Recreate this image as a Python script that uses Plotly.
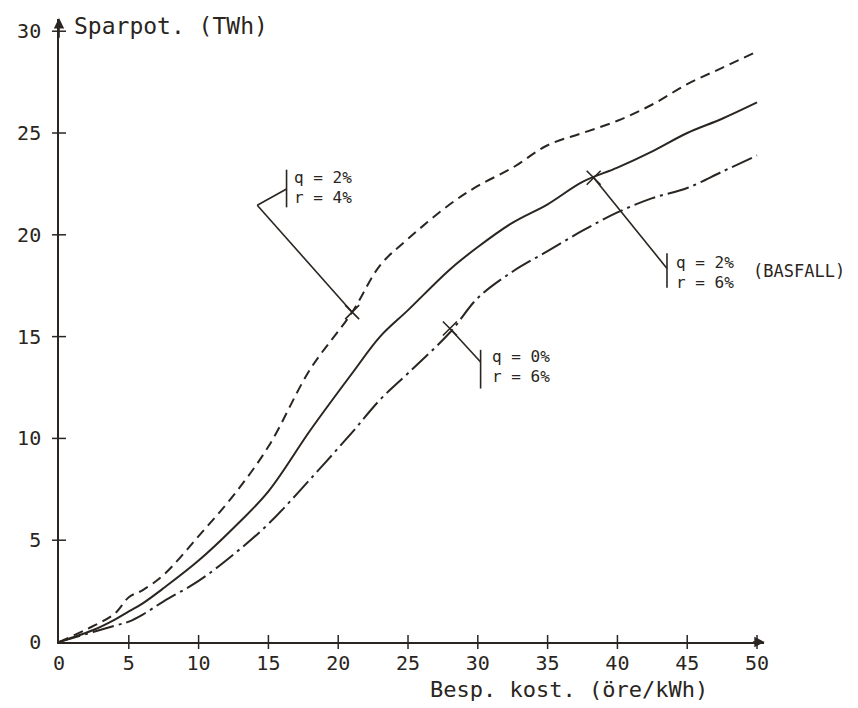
import plotly.graph_objects as go

# Data
kost = [0, 2.5, 4, 5, 6, 7.5, 10, 12.5, 15, 18, 21, 23, 25, 28, 30, 32.5, 35, 37.5, 40, 42.5, 45, 47.5, 50]
q2_r4 = [0, 0.8, 1.4, 2.2, 2.55, 3.3, 5.2, 7.2, 9.6, 13.4, 16.2, 18.5, 19.8, 21.5, 22.4, 23.3, 24.4, 25.0, 25.6, 26.4, 27.4, 28.2, 29.0]
q2_r6 = [0, 0.6, 1.1, 1.5, 1.9, 2.65, 4.0, 5.6, 7.4, 10.4, 13.2, 15.0, 16.3, 18.3, 19.4, 20.6, 21.5, 22.6, 23.3, 24.1, 25.0, 25.7, 26.5]
q0_r6 = [0, 0.5, 0.8, 1.0, 1.35, 2.0, 3.0, 4.3, 5.8, 8.0, 10.3, 11.9, 13.2, 15.2, 16.9, 18.2, 19.2, 20.2, 21.1, 21.8, 22.3, 23.1, 23.9]

markers_x = [21, 38.3, 28]
markers_y = [16.2, 22.8, 15.4]
labels = [["q = 2%", "r = 4%"], ["q = 2%", "r = 6%"], ["q = 0%", "r = 6%"]]

xticks = [0, 5, 10, 15, 20, 25, 30, 35, 40, 45, 50]
yticks = [0, 5, 10, 15, 20, 25, 30]
xtick_text = [str(v) for v in xticks]
ytick_text = [str(v) for v in yticks]

XMAX, YMAX = 50.5, 30.6
INK = "#2a2520"
FONT = "DejaVu Sans Mono"

fig = go.Figure()
fig.add_trace(go.Scatter(x=kost, y=q2_r4, mode="lines",
                         line=dict(color=INK, width=2, dash="10px,6px"), line_shape="spline"))
fig.add_trace(go.Scatter(x=kost, y=q2_r6, mode="lines",
                         line=dict(color=INK, width=2), line_shape="spline"))
fig.add_trace(go.Scatter(x=kost, y=q0_r6, mode="lines",
                         line=dict(color=INK, width=2, dash="22px,5px,3px,5px"), line_shape="spline"))
fig.add_trace(go.Scatter(x=markers_x, y=markers_y, mode="markers",
                         marker=dict(symbol="x-thin", size=14, line=dict(color=INK, width=1.6))))
# tick crosses on the axes
fig.add_trace(go.Scatter(x=xticks[1:], y=[0] * (len(xticks) - 1), mode="markers", cliponaxis=False,
                         marker=dict(symbol="line-ns", size=10, line=dict(color=INK, width=1.5))))
fig.add_trace(go.Scatter(x=[0] * (len(yticks) - 1), y=yticks[1:], mode="markers", cliponaxis=False,
                         marker=dict(symbol="line-ew", size=10, line=dict(color=INK, width=1.5))))

# Leader lines (offsets relative to markers, in data units)
def seg(x0, y0, x1, y1):
    fig.add_shape(type="line", x0=x0, y0=y0, x1=x1, y1=y1, xref="x", yref="y",
                  line=dict(color=INK, width=1.6))

# q=2%, r=4%
mx, my = markers_x[0], markers_y[0]
ex, ey = mx - 6.8, my + 5.25
bx = mx - 4.7
seg(mx, my, ex, ey)
seg(ex, ey, bx, ey + 0.8)
seg(bx, ey + 1.75, bx, ey - 0.1)
# basfall
mx, my = markers_x[1], markers_y[1]
bx2, by2 = mx + 5.25, my - 4.45
seg(mx, my, bx2, by2)
seg(bx2, by2 + 0.75, bx2, by2 - 0.95)
# q=0%, r=6%
mx, my = markers_x[2], markers_y[2]
bx3, by3 = mx + 2.2, my - 1.65
seg(mx, my, bx3, by3)
seg(bx3, by3 + 0.6, bx3, by3 - 1.3)

ann = []
label_pos = [(bx + 0.4, ey + 1.35), (bx2 + 0.5, by2 + 0.3), (bx3 + 0.65, by3 + 0.25)]
for (lx, ly), (l1, l2) in zip(label_pos, labels):
    ann.append(dict(x=lx, y=ly, text=l1, xanchor="left", yanchor="middle", showarrow=False,
                    font=dict(family=FONT, size=16, color=INK)))
    ann.append(dict(x=lx, y=ly - 0.98, text=l2, xanchor="left", yanchor="middle", showarrow=False,
                    font=dict(family=FONT, size=16, color=INK)))
ann.append(dict(x=49.6 / XMAX, y=(by2 - 0.15) / YMAX, xref="paper", yref="paper", text="(BASFALL)",
                xanchor="left", yanchor="middle", showarrow=False,
                font=dict(family=FONT, size=17, color=INK)))
ann.append(dict(x=0.9, y=30.25, text="Sparpot. (TWh)", xanchor="left", yanchor="middle", showarrow=False,
                font=dict(family=FONT, size=23, color=INK)))
ann.append(dict(x=26.4 / XMAX, y=-2.35 / YMAX, xref="paper", yref="paper", text="Besp. kost. (öre/kWh)",
                xanchor="left", yanchor="middle", showarrow=False,
                font=dict(family=FONT, size=22, color=INK)))
# axis arrowheads
ann.append(dict(x=0, y=YMAX + 0.05, ax=0, ay=29.6, xref="x", yref="y", axref="x", ayref="y", text="",
                showarrow=True, arrowhead=2, arrowsize=1.3, arrowwidth=1.6, arrowcolor=INK))
ann.append(dict(x=XMAX + 0.05, y=0, ax=49.6, ay=0, xref="x", yref="y", axref="x", ayref="y", text="",
                showarrow=True, arrowhead=2, arrowsize=1.3, arrowwidth=1.6, arrowcolor=INK))

fig.update_layout(
    width=850, height=700,
    margin=dict(l=51, r=94, t=11, b=66, autoexpand=False),
    paper_bgcolor="white", plot_bgcolor="white",
    showlegend=False,
    annotations=ann,
    xaxis=dict(range=[0, XMAX], tickvals=xticks, ticktext=xtick_text, showgrid=False, zeroline=False,
               automargin=False,
               showline=True, linecolor=INK, linewidth=1.6, ticks="", ticklabelstandoff=2,
               tickfont=dict(family=FONT, size=20, color=INK)),
    yaxis=dict(range=[0, YMAX], tickvals=yticks, ticktext=ytick_text, showgrid=False, zeroline=False,
               automargin=False,
               showline=True, linecolor=INK, linewidth=1.6, ticks="", ticklabelstandoff=12,
               tickfont=dict(family=FONT, size=20, color=INK)),
)

fig.write_html("out.html")
